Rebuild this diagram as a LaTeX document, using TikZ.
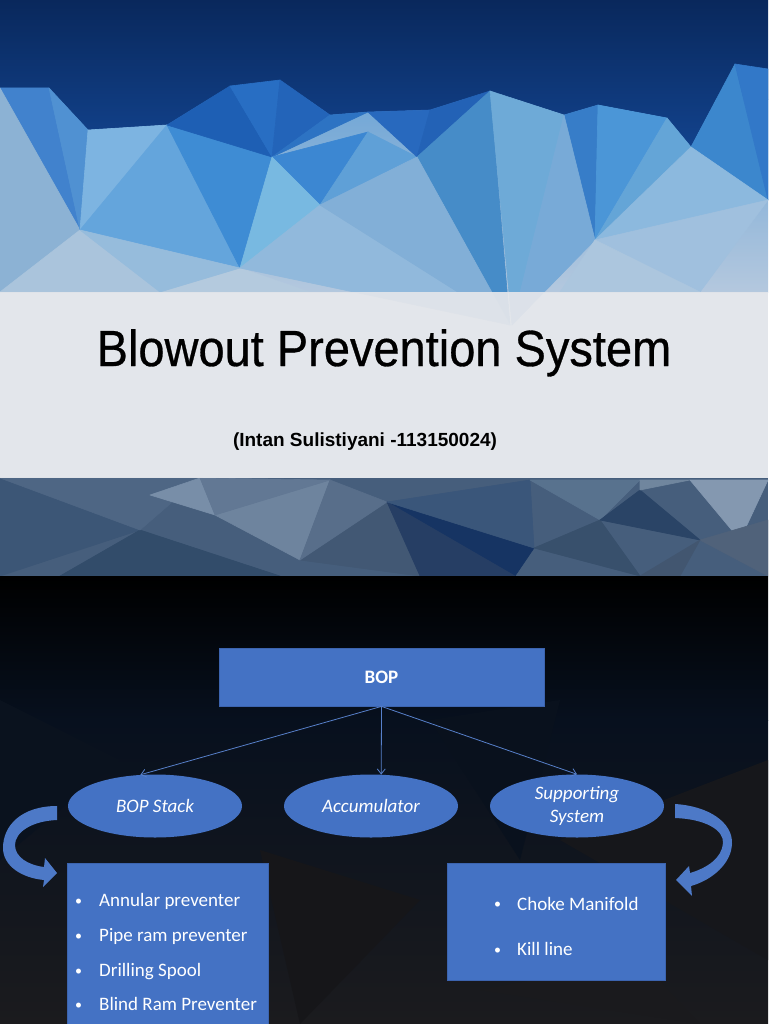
\documentclass[tikz,border=0pt]{standalone}
\usepackage{fontspec}
\setmainfont{Liberation Sans}
\newfontfamily\titlefont[FakeBold=0.6]{Liberation Sans}
\newfontfamily\calibri{Carlito}
\usepackage{tikz}
\usetikzlibrary{arrows.meta,shapes.geometric}
\usepackage{xcolor}
\definecolor{officeblue}{RGB}{68,114,196}
\definecolor{officeedge}{RGB}{60,100,175}
\definecolor{navydeep}{RGB}{9,40,92}
\definecolor{navymid}{RGB}{18,66,140}
\definecolor{skylight}{RGB}{112,166,214}
\definecolor{skypale}{RGB}{180,200,222}
\definecolor{bandgrey}{RGB}{226,229,234}
\definecolor{slate}{RGB}{70,94,124}
\definecolor{nightblue}{RGB}{7,16,30}
\definecolor{nightgrey}{RGB}{27,27,30}

\tikzset{
  bopbox/.style={rectangle, draw=officeedge, fill=officeblue, line width=0.8pt, inner sep=0pt},
  bopoval/.style={ellipse, fill=officeblue, inner sep=0pt,
    minimum width=174pt, minimum height=63pt, text=white, align=center,
    font=\calibri\itshape\fontsize{19}{23}\selectfont},
  itemtext/.style={anchor=base west, inner sep=0pt, text=white, font=\calibri\fontsize{19}{23}\selectfont},
  itemdot/.style={anchor=base west, inner sep=0pt, text=white, font=\calibri\fontsize{14}{16}\selectfont},
  link/.style={officeblue!90!white, line width=0.8pt, -{Straight Barb[length=5pt,width=8pt]}},
  bendarrow/.style={fill=officeblue!95!white},
  facetfill/.style={fill=facet, draw=facet, line width=0.6pt, line join=round}
}

\begin{document}
\begin{tikzpicture}[x=1pt, y=-1pt]
    \useasboundingbox (0,0) rectangle (768,1024);
    \clip (0,0) rectangle (768,1024);

    % Title slide -- low-poly sky
    \shade[top color=navydeep, bottom color=navymid] (0,0) rectangle (768,100);
    \shade[top color=skylight, bottom color=skypale] (0,100) rectangle (768,292);
    \shade[top color=navydeep, bottom color=navymid]
      (0,0) -- (768,0) -- (768,69) -- (735,64) -- (691,147) -- (667,118) -- (598,105)
      -- (564,115) -- (490,91) -- (430,110) -- (368,112) -- (330,115) -- (280,80)
      -- (230,86) -- (167,125) -- (88,130) -- (49,88) -- (0,88) -- cycle;
    \foreach \ax/\ay/\bx/\by/\cx/\cy/\r/\g/\b in {
      0/88/49/88/80/230/65/130/205,
      0/88/80/230/0/292/140/178/212,
      49/88/88/130/80/230/80/145/210,
      88/130/167/125/80/230/125/180/225,
      167/125/240/268/80/230/100/165/220,
      167/125/272/157/240/268/62/140/212,
      167/125/230/86/272/157/30/95/180,
      230/86/280/80/272/157/40/110/195,
      280/80/330/115/272/157/35/100/185,
      330/115/368/112/272/157/45/115/195,
      272/157/368/132/320/205/60/135/210,
      272/157/320/205/240/268/120/185/225,
      368/132/417/157/320/205/95/160/215,
      368/112/430/110/417/157/40/105/190,
      430/110/490/91/417/157/35/98/182,
      417/157/490/91/510/325/70/140/200,
      490/91/564/115/512/325/110/170/215,
      564/115/598/105/595/240/55/125/200,
      598/105/667/118/595/240/75/150/215,
      667/118/691/147/595/240/100/165/215,
      691/147/735/64/768/200/60/135/205,
      735/64/768/69/768/200/50/120/200,
      80/230/160/292/0/292/170/196/220,
      240/268/310/292/160/292/180/202/222,
      80/230/240/268/160/292/150/188/220,
      240/268/320/205/510/325/145/185/220,
      320/205/417/157/510/325/130/175/215,
      512/325/595/240/564/115/120/170/215,
      595/240/691/147/768/200/140/185/222,
      595/240/768/200/700/292/160/192/222,
      595/240/700/292/560/292/172/198/222}{
      \definecolor{facet}{RGB}{\r,\g,\b}
      \path[facetfill] (\ax,\ay) -- (\bx,\by) -- (\cx,\cy) -- cycle;
    }

    % Title slide -- lower strip
    \fill[slate] (0,478) rectangle (768,576);
    \foreach \ax/\ay/\bx/\by/\cx/\cy/\r/\g/\b in {
      0/478/140/530/0/576/60/86/118,
      140/530/280/576/60/576/50/76/106,
      0/478/200/478/140/530/78/102/132,
      200/478/215/515/150/495/120/142/168,
      215/515/330/480/300/560/110/132/158,
      200/478/330/480/215/515/98/120/148,
      300/560/387/502/420/576/66/88/116,
      330/480/387/502/300/560/88/110/138,
      387/502/534/548/515/576/22/52/99,
      387/502/515/576/420/576/38/62/100,
      387/502/530/480/534/548/58/86/122,
      530/480/640/480/600/520/88/114/142,
      534/548/600/520/640/576/56/80/108,
      600/520/640/490/700/540/42/68/102,
      640/480/690/480/640/490/112/134/158,
      690/480/768/480/740/540/132/152/176,
      700/540/768/520/768/576/80/98/122,
      640/576/700/540/680/576/66/86/112}{
      \definecolor{facet}{RGB}{\r,\g,\b}
      \path[facetfill] (\ax,\ay) -- (\bx,\by) -- (\cx,\cy) -- cycle;
    }

    % Title band
    \fill[bandgrey, opacity=0.95] (0,292) rectangle (768,478);
    \node[anchor=base, inner sep=0pt, font=\titlefont\fontsize{47}{56}\selectfont] (title) at (384,366)
      {\scalebox{1}[1.08]{Blowout Prevention System}};
    \node[anchor=base, inner sep=0pt, font=\bfseries\fontsize{19}{23}\selectfont] (author) at (365,446)
      {(Intan Sulistiyani -113150024)};

    % Second slide -- dark background
    \shade[top color=black, bottom color=nightblue] (0,576) rectangle (768,720);
    \shade[top color=nightblue, bottom color=nightgrey] (0,720) rectangle (768,1024);
    \foreach \ax/\ay/\bx/\by/\cx/\cy/\r/\g/\b in {
      0/700/120/760/0/860/10/18/30,
      430/720/560/700/520/860/9/17/29,
      560/840/768/760/768/960/22/23/27,
      260/850/420/900/300/1024/22/22/25,
      480/990/640/960/700/1024/26/26/29}{
      \definecolor{facet}{RGB}{\r,\g,\b}
      \fill[facet] (\ax,\ay) -- (\bx,\by) -- (\cx,\cy) -- cycle;
    }

    % BOP tree
    \node[bopbox, minimum width=325pt, minimum height=58pt, text=white,
      font=\calibri\bfseries\fontsize{19}{23}\selectfont] (bop) at (381.5,677) {BOP};
    \node[bopoval] (stack) at (155,806) {BOP Stack};
    \node[bopoval] (accu) at (371,806) {Accumulator};
    \node[bopoval] (support) at (577,806) {Supporting\\System};

    \draw[link] (bop.south) -- (stack.115);
    \draw[link] (bop.south) -- (accu.72);
    \draw[link] (bop.south) -- (support.north);

    % Component boxes
    \node[bopbox, anchor=north west, minimum width=201pt, minimum height=175pt] (stackbox) at (67,863) {};
    \node[bopbox, anchor=north west, minimum width=218pt, minimum height=117pt] (supportbox) at (447,863) {};

    \foreach \y/\lab/\nm in {906.7/Annular preventer/ann, 941.7/Pipe ram preventer/pipe,
                             976.7/Drilling Spool/spool, 1010.7/Blind Ram Preventer/blind}{
      \node[itemdot] (dot\nm) at (75,\y-1.5) {•};
      \node[itemtext] (\nm) at (99,\y) {\lab};
    }
    \foreach \y/\lab/\nm in {910/Choke Manifold/choke, 955.7/Kill line/kill}{
      \node[itemdot] (dot\nm) at (494,\y-1.5) {•};
      \node[itemtext] (\nm) at (517,\y) {\lab};
    }

    % Curved block arrows
    \fill[bendarrow]
      (57,806) .. controls (22,806) and (3,825) .. (3,848)
      .. controls (3,866) and (22,878) .. (44,880)
      -- (43,887) -- (57,873) -- (45,858) -- (44,867)
      .. controls (28,865) and (15,857) .. (15,845)
      .. controls (15,832) and (32,821) .. (57,820) -- cycle;
    \fill[bendarrow]
      (675,804) .. controls (708,806) and (733,822) .. (732,844)
      .. controls (731,864) and (712,880) .. (691,886)
      -- (692,896) -- (676,880) -- (689,866) -- (690,873)
      .. controls (707,868) and (722,858) .. (723,843)
      .. controls (724,830) and (705,819) .. (675,818) -- cycle;
\end{tikzpicture}
\end{document}
